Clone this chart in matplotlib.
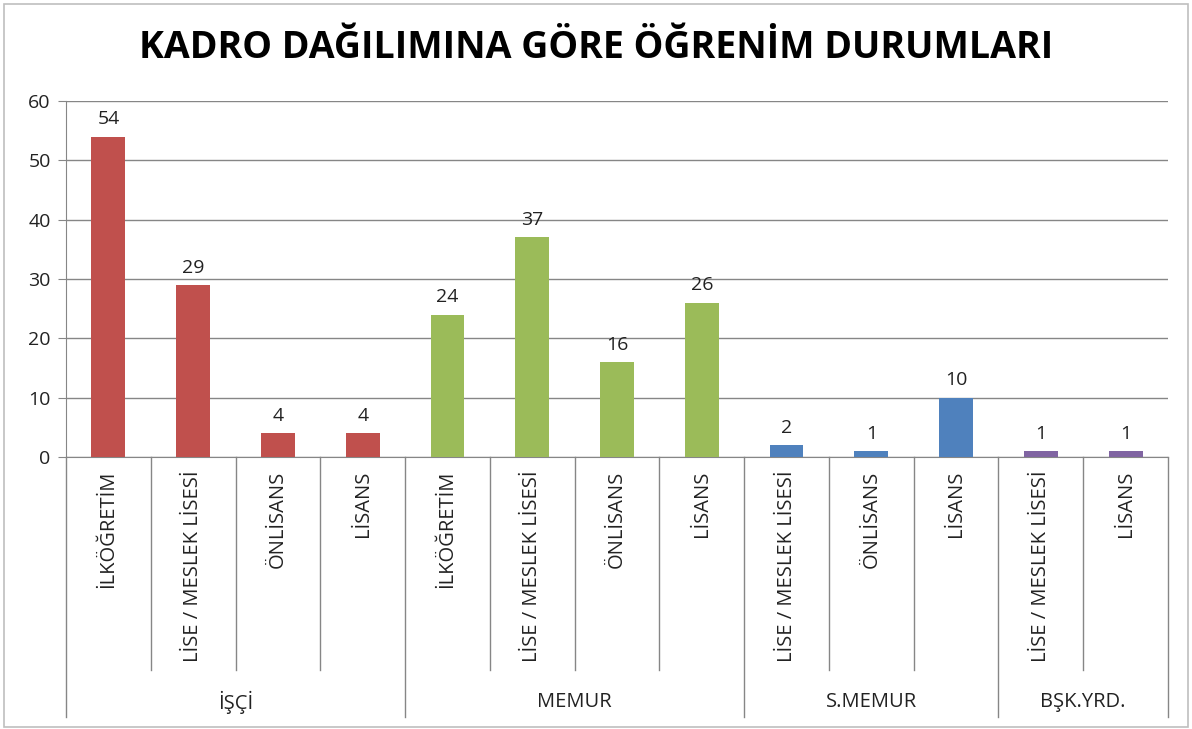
import matplotlib.pyplot as plt
from matplotlib.patches import Rectangle

# data
groups = ["İŞÇİ", "MEMUR", "S.MEMUR", "BŞK.YRD."]
group_sizes = [4, 4, 3, 2]
categories = ["İLKÖĞRETİM", "LİSE / MESLEK LİSESİ", "ÖNLİSANS", "LİSANS",
              "İLKÖĞRETİM", "LİSE / MESLEK LİSESİ", "ÖNLİSANS", "LİSANS",
              "LİSE / MESLEK LİSESİ", "ÖNLİSANS", "LİSANS",
              "LİSE / MESLEK LİSESİ", "LİSANS"]
values = [54, 29, 4, 4, 24, 37, 16, 26, 2, 1, 10, 1, 1]
group_colors = ["#C0504D", "#9BBB59", "#4F81BD", "#8064A2"]

plt.rcParams['font.family'] = ['Open Sans', 'DejaVu Sans']

fig = plt.figure(figsize=(11.92, 7.29), dpi=100)
W, H = 1192, 729
ax = fig.add_axes([66 / W, 1 - 457 / H, (1168 - 66) / W, (457 - 101) / H])

# outer frame of the chart
fig.patches.append(Rectangle((4 / W, 2 / H), 1184 / W, 723 / H, transform=fig.transFigure,
                             fill=False, edgecolor="#BFBFBF", linewidth=1.2))

colors = []
for g, n in enumerate(group_sizes):
    colors += [group_colors[g]] * n

x = list(range(len(values)))
bars = ax.bar(x, values, width=0.4, color=colors, zorder=3)
for xi, v in zip(x, values):
    ax.annotate(str(v), (xi, v), xytext=(0, 6), textcoords="offset points",
                ha="center", va="bottom", fontsize=14, color="#222222")

ax.set_xlim(-0.5, len(values) - 0.5)
ax.set_ylim(0, 60)
ax.set_yticks(range(0, 61, 10))
ax.tick_params(axis="y", labelsize=14, length=6, color="#868686", pad=5, labelcolor="#222222")
ax.set_xticks([])
ax.yaxis.grid(True, color="#868686", linewidth=1.0, zorder=0)
for s in ["top", "right"]:
    ax.spines[s].set_visible(False)
ax.spines["left"].set_color("#868686")
ax.spines["bottom"].set_color("#868686")

# multi-level category axis
short_y = -213 / 356
long_y = -260 / 356
group_bounds = [-0.5]
acc = -0.5
for n in group_sizes:
    acc += n
    group_bounds.append(acc)

trans = ax.get_xaxis_transform()
for b in [i - 0.5 for i in range(len(values) + 1)]:
    yend = long_y if any(abs(b - gb) < 1e-9 for gb in group_bounds) else short_y
    ax.plot([b, b], [0, yend], transform=trans, color="#868686", linewidth=1.0, clip_on=False)

for xi, lab in zip(x, categories):
    ax.text(xi, -14 / 356, lab, transform=trans, rotation=90, ha="center", va="top",
            fontsize=14.5, color="#222222")

for g, name in enumerate(groups):
    mid = (group_bounds[g] + group_bounds[g + 1]) / 2
    ax.text(mid, -245 / 356, name, transform=trans, ha="center", va="center",
            fontsize=14.5, color="#222222")

fig.text(0.5, 1 - 48 / H, "KADRO DAĞILIMINA GÖRE ÖĞRENİM DURUMLARI", ha="center", va="center",
         fontsize=27, fontweight="bold", color="#000000")

fig.savefig("out.png", dpi=100)
